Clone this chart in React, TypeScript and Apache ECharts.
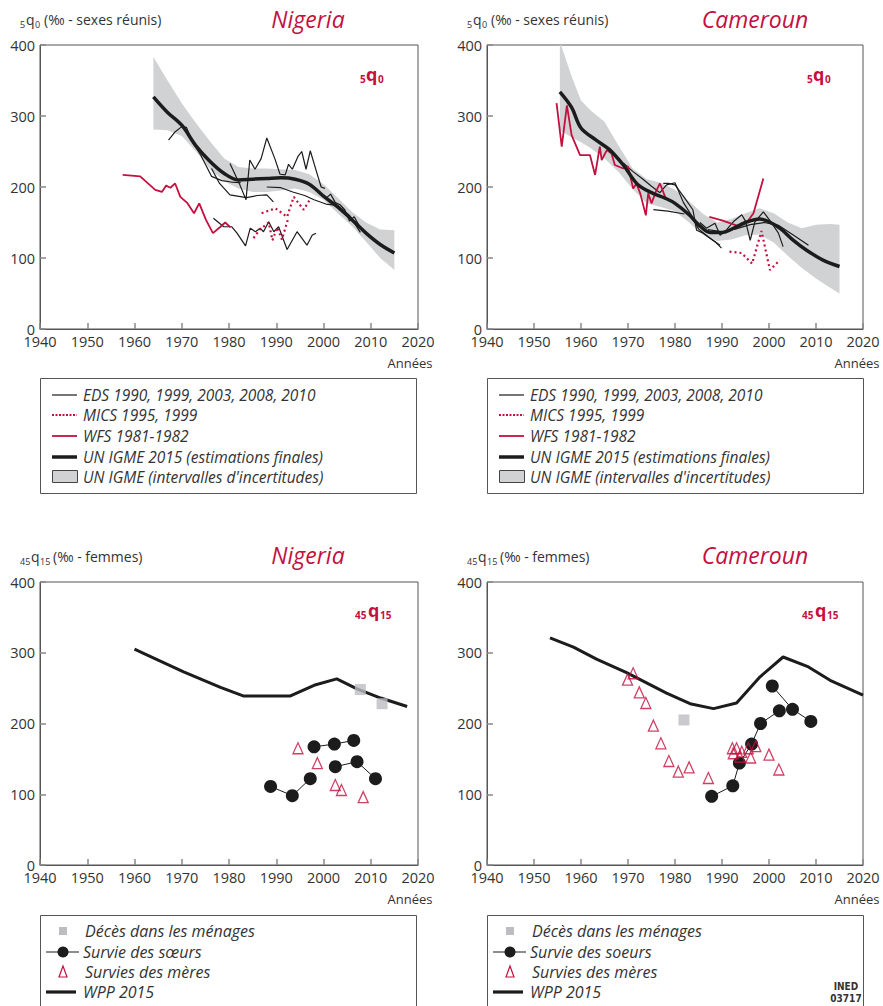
import React, { useEffect, useRef } from "react";
import * as echarts from "echarts";

// ---------- Nigeria 5q0 ----------
const ngBandYears = [1964, 1967, 1970, 1973, 1976, 1979, 1982, 1985, 1988, 1991, 1994, 1997, 2000, 2003, 2006, 2009, 2012, 2015];
const ngBandUpper = [383, 350, 318, 290, 264, 240, 228, 226, 226, 225, 224, 218, 204, 185, 165, 150, 140, 139];
const ngBandLower = [281, 280, 272, 250, 225, 208, 198, 193, 193, 195, 198, 193, 182, 163, 145, 123, 100, 83];
const ngIgmeYears = [1964, 1967, 1970, 1973, 1976, 1979, 1982, 1985, 1988, 1991, 1994, 1997, 2000, 2003, 2006, 2009, 2012, 2015];
const ngIgme = [327, 305, 287, 258, 236, 219, 210, 211, 212, 213, 211, 204, 187, 172, 154, 135, 119, 107];

const ngEds1: number[][] = [[1967.2, 266], [1968.5, 277], [1970, 285], [1971, 284], [1972.4, 262], [1974, 245], [1976.3, 215], [1978.5, 209], [1980.5, 207], [1982.5, 206]];
const ngEds2: number[][] = [[1976.3, 226], [1978, 205], [1980.2, 189], [1983.7, 185], [1986, 188], [1988, 189], [1989.4, 179]];
const ngEds3: number[][] = [[1980.2, 233], [1982.3, 203], [1983.6, 182], [1984.4, 238], [1985.5, 225], [1986.8, 240], [1988, 269], [1989.7, 240], [1990.8, 218], [1991.9, 217], [1992.6, 232], [1993.4, 225], [1994.6, 243], [1995.4, 250], [1996.3, 225], [1997.2, 251], [1998.5, 222], [1999.5, 200], [2000.3, 198]];
const ngEds4: number[][] = [[1988, 200], [1991, 199], [1993.5, 193], [1996, 188], [1998, 182], [2000.5, 176], [2003, 174], [2005.5, 160], [2007.8, 136]];
const ngEds5: number[][] = [[1996.5, 205], [1998, 200], [1999.5, 190], [2000.5, 184], [2001.5, 190], [2002.5, 178], [2003.5, 175], [2004.5, 168], [2005.5, 152], [2006.5, 158], [2008, 140]];
const ngEds6: number[][] = [[1976.7, 156], [1978.9, 144], [1980.6, 144], [1981.7, 135], [1983.5, 117], [1984.5, 142], [1985.6, 137], [1986.6, 142], [1987.3, 137], [1988.4, 151], [1989.5, 137], [1990.5, 144], [1992.3, 112], [1994.4, 137], [1996.5, 118], [1997.6, 132], [1998.4, 135]];
const ngMics1995: number[][] = [[1985.2, 128], [1986.5, 140], [1988.4, 150], [1989.2, 125], [1990.2, 143], [1991.2, 126], [1992.5, 155]];
const ngMics1999: number[][] = [[1986.9, 163], [1989.8, 170], [1992.3, 158], [1993.7, 186], [1995.8, 168], [1997.1, 182]];
const ngWfs: number[][] = [[1957.5, 217], [1961.2, 215], [1964.4, 196], [1965.8, 193], [1966.7, 202], [1967.6, 199], [1968.6, 205], [1969.7, 186], [1971.1, 178], [1972.6, 163], [1973.7, 177], [1975.1, 154], [1976.6, 135], [1978.2, 144], [1979.2, 150], [1980.3, 143]];

// ---------- Cameroun 5q0 ----------
const cmBandYears = [1955.5, 1958, 1960, 1962, 1965, 1968, 1971, 1974, 1977, 1980, 1983, 1986, 1989, 1992, 1995, 1998, 2001, 2004, 2007, 2010, 2013, 2015];
const cmBandUpper = [405, 356, 322, 308, 292, 258, 226, 211, 206, 196, 180, 162, 150, 155, 163, 170, 163, 150, 142, 147, 148, 147];
const cmBandLower = [280, 270, 263, 255, 240, 221, 197, 177, 172, 166, 150, 132, 124, 126, 132, 133, 122, 103, 86, 71, 58, 50];
const cmIgmeYears = [1955.5, 1958, 1960, 1963, 1966, 1969, 1972, 1975, 1978, 1980, 1983, 1985, 1987.5, 1990, 1992.5, 1995, 1998, 2000, 2002.5, 2005, 2008, 2011.5, 2015];
const cmIgme = [334, 312, 283, 267, 253, 231, 204, 192, 184, 177, 161, 147, 136, 136, 142, 150, 155, 151, 141, 126, 111, 97, 88];

const cmEds1: number[][] = [[1969, 234], [1971, 222], [1973, 212], [1975, 201], [1976.8, 192], [1978.2, 203], [1980, 206], [1981.8, 178], [1983.5, 160], [1985, 141], [1987, 130], [1989.6, 118]];
const cmEds2: number[][] = [[1975.4, 168], [1978.5, 166], [1982, 162]];
const cmEds3: number[][] = [[1977.5, 205], [1978.6, 205], [1980, 203], [1982, 185], [1983.8, 168], [1984.6, 139], [1986, 135], [1988.5, 123], [1989.9, 114]];
const cmEds4: number[][] = [[1985.3, 150], [1986.7, 142], [1988.5, 149], [1989.6, 132], [1991, 140], [1992.4, 151], [1994.2, 161], [1995, 152], [1996, 125], [1997, 151], [1998.8, 165], [2000.6, 149], [2002, 135], [2003, 116]];
const cmEds5: number[][] = [[1987, 140], [1990, 137], [1993, 141], [1996, 147], [1999, 150], [2002, 146], [2005, 133], [2008.4, 118]];
const cmMics: number[][] = [[1991.6, 109], [1994.2, 107], [1996.4, 92], [1998.4, 138], [2000.2, 83], [2002.3, 97]];
const cmWfs: number[][] = [[1954.8, 318], [1955.9, 257], [1957, 315], [1958, 273], [1959.8, 245], [1961.9, 245], [1963, 217], [1964, 257], [1964.4, 238], [1965.5, 252], [1966.5, 247], [1967.2, 231], [1969, 226], [1970, 229], [1971.1, 198], [1971.8, 205], [1972.6, 191], [1973.8, 160], [1974.3, 191], [1975, 177], [1975.9, 193], [1976.8, 205], [1977.9, 186]];
const cmWfs2: number[][] = [[1987.3, 158], [1990, 153], [1993.5, 145], [1995.5, 152], [1996.7, 163], [1998.8, 212]];

// ---------- Nigeria 45q15 ----------
const ngWppYears = [1960, 1962.6, 1970.4, 1978.2, 1983, 1993, 1998, 2002.8, 2007.1, 2012.1, 2017.7];
const ngWpp = [305, 297, 273, 251, 239, 239, 254, 263, 249, 236, 224];
const ngHouse: number[][] = [[2007.8, 248], [2012.4, 228]];
const ngSisters: number[][][] = [
  [[1988.8, 111], [1993.4, 98], [1997.2, 122]],
  [[1998, 167], [2002.3, 171], [2006.4, 176]],
  [[2002.5, 139], [2007.1, 146], [2011, 122]],
];
const ngMothers: number[][] = [[1994.6, 165], [1998.7, 144], [2002.5, 113], [2003.8, 106], [2008.4, 96]];

// ---------- Cameroun 45q15 ----------
const cmWppYears = [1953.4, 1958.4, 1963.3, 1969.7, 1978.2, 1983.2, 1988.2, 1993.1, 1998.1, 2003, 2008.4, 2013, 2020];
const cmWpp = [321, 308, 291, 272, 243, 228, 221, 229, 266, 294, 280, 261, 240];
const cmHouse: number[][] = [[1981.9, 205]];
const cmSisters: number[][][] = [
  [[1987.8, 97], [1992.3, 112], [1993.7, 144], [1996.3, 171], [1998.2, 200], [2002.2, 218]],
  [[2000.7, 253], [2005, 220], [2008.9, 203]],
];
const cmMothers: number[][] = [[1969.9, 262], [1971.1, 271], [1972.4, 244], [1973.8, 229], [1975.4, 197], [1977, 172], [1978.7, 147], [1980.7, 132], [1983, 138], [1987.1, 123], [1992.2, 165], [1993.1, 165], [1992.4, 158], [1994.2, 160], [1993.8, 153], [1995.6, 165], [1996.1, 152], [1997.2, 168], [2000, 156], [2002.1, 135]];

const topLegend = ["EDS 1990, 1999, 2003, 2008, 2010", "MICS 1995, 1999", "WFS 1981-1982", "UN IGME 2015 (estimations finales)", "UN IGME (intervalles d'incertitudes)"];
const bottomLegendNg = ["Décès dans les ménages", "Survie des sœurs", "Survies des mères", "WPP 2015"];
const bottomLegendCm = ["Décès dans les ménages", "Survie des soeurs", "Survies des mères", "WPP 2015"];

const CRIMSON = "#c4103f";
const BLACK = "#1c1c1c";
const BAND = "#d1d2d4";
const FONT = '"Open Sans", "Noto Sans", sans-serif';

const zip = (xs: number[], ys: number[]) => xs.map((x, i) => [x, ys[i]]);

function buildOption() {
  const grids = [
    { left: 40, top: 45, width: 378, height: 284 },
    { left: 487, top: 45, width: 376, height: 284 },
    { left: 40, top: 582, width: 378, height: 283 },
    { left: 487, top: 582, width: 376, height: 283 },
  ].map((g) => ({ ...g, show: true, borderColor: "#555", borderWidth: 1, backgroundColor: "transparent" }));

  const xAxes = grids.map((_, i) => ({
    type: "value",
    gridIndex: i,
    min: 1940,
    max: 2020,
    interval: 10,
    axisLine: { show: true, lineStyle: { color: "#555", width: 1 } },
    axisTick: { show: true, inside: true, length: 6, lineStyle: { color: "#888", width: 1.5 } },
    axisLabel: { fontSize: 14.5, lineHeight: 14, color: "#333", margin: 5, fontFamily: FONT, formatter: (v: number) => String(v) },
    splitLine: { show: false },
  }));
  const yAxes = grids.map((_, i) => ({
    type: "value",
    gridIndex: i,
    min: 0,
    max: 400,
    interval: 100,
    axisLine: { show: true, lineStyle: { color: "#555", width: 1 } },
    axisTick: { show: true, inside: true, length: 6, lineStyle: { color: "#888", width: 1.5 } },
    axisLabel: { fontSize: 14.5, lineHeight: 12, color: "#333", margin: 5, fontFamily: FONT, formatter: (v: number) => String(v) },
    splitLine: { show: false },
  }));

  const series: any[] = [];
  const line = (g: number, data: number[][], color: string, width: number, extra: any = {}) =>
    series.push({
      type: "line",
      xAxisIndex: g,
      yAxisIndex: g,
      data,
      symbol: "none",
      lineStyle: { color, width, ...(extra.lineStyle || {}) },
      z: extra.z ?? 3,
      smooth: extra.smooth ?? false,
      silent: true,
    });
  const band = (g: number, years: number[], lo: number[], up: number[]) => {
    series.push({
      type: "custom",
      coordinateSystem: "cartesian2d",
      xAxisIndex: g,
      yAxisIndex: g,
      clip: true,
      silent: true,
      z: 1,
      data: years.map((y, i) => [y, lo[i], up[i]]),
      encode: { x: 0, y: [1, 2] },
      renderItem: (params: any, api: any) => {
        if (params.dataIndex !== 0) return null;
        const top = years.map((y, i) => api.coord([y, up[i]]));
        const bottom = years.map((y, i) => api.coord([y, lo[i]])).reverse();
        return { type: "polygon", shape: { points: [...top, ...bottom] }, style: { fill: BAND, stroke: "none" } };
      },
    });
  };

  // Nigeria 5q0
  band(0, ngBandYears, ngBandLower, ngBandUpper);
  [ngEds1, ngEds2, ngEds3, ngEds4, ngEds5, ngEds6].forEach((d) => line(0, d, BLACK, 1.2));
  line(0, ngWfs, CRIMSON, 1.8);
  [ngMics1995, ngMics1999].forEach((d) => line(0, d, CRIMSON, 2.2, { lineStyle: { type: [2, 3] } }));
  line(0, zip(ngIgmeYears, ngIgme), BLACK, 3.5, { smooth: 0.35, z: 5 });

  // Cameroun 5q0
  band(1, cmBandYears, cmBandLower, cmBandUpper);
  [cmEds1, cmEds2, cmEds3, cmEds4, cmEds5].forEach((d) => line(1, d, BLACK, 1.2));
  line(1, cmWfs, CRIMSON, 1.8);
  line(1, cmWfs2, CRIMSON, 1.8);
  line(1, cmMics, CRIMSON, 2.2, { lineStyle: { type: [2, 3] } });
  line(1, zip(cmIgmeYears, cmIgme), BLACK, 3.5, { smooth: 0.35, z: 5 });

  // 45q15
  const q45 = (g: number, wppY: number[], wpp: number[], house: number[][], sisters: number[][][], mothers: number[][]) => {
    line(g, zip(wppY, wpp), BLACK, 3, { z: 3 });
    series.push({
      type: "scatter", xAxisIndex: g, yAxisIndex: g, data: house, symbol: "rect", symbolSize: 11,
      itemStyle: { color: "#bcbdc0" }, z: 4, silent: true,
    });
    sisters.forEach((d) =>
      series.push({
        type: "line", xAxisIndex: g, yAxisIndex: g, data: d, symbol: "circle", symbolSize: 13, showSymbol: true,
        lineStyle: { color: BLACK, width: 1 }, itemStyle: { color: BLACK }, z: 5, silent: true,
      })
    );
    series.push({
      type: "scatter", xAxisIndex: g, yAxisIndex: g, data: mothers, symbol: "triangle", symbolSize: [10, 11],
      itemStyle: { color: "rgba(255,255,255,0)", borderColor: CRIMSON, borderWidth: 1.3 }, z: 6, silent: true,
    });
  };
  q45(2, ngWppYears, ngWpp, ngHouse, ngSisters, ngMothers);
  q45(3, cmWppYears, cmWpp, cmHouse, cmSisters, cmMothers);

  // ---------- graphics ----------
  const g: any[] = [];
  const txt = (x: number, y: number, text: string, font: string, fill = "#333", align = "left") =>
    g.push({ type: "text", x, y, style: { text, font, fill, align, verticalAlign: "middle" } });

  // titles
  txt(308, 19, "Nigeria", `italic 23px ${FONT}`, CRIMSON, "center");
  txt(755, 19, "Cameroun", `italic 23px ${FONT}`, CRIMSON, "center");
  txt(308, 555, "Nigeria", `italic 23px ${FONT}`, CRIMSON, "center");
  txt(755, 555, "Cameroun", `italic 23px ${FONT}`, CRIMSON, "center");

  // axis names
  const name5q0 = (x: number, y: number) => {
    txt(x, y + 5, "5", `9px ${FONT}`);
    txt(x + 6, y, "q", `14px ${FONT}`);
    txt(x + 15, y + 5, "0", `9px ${FONT}`);
    txt(x + 24, y, "(‰ - sexes réunis)", `14px ${FONT}`);
  };
  const name45 = (x: number, y: number) => {
    txt(x, y + 5, "45", `9px ${FONT}`);
    txt(x + 11, y, "q", `14px ${FONT}`);
    txt(x + 20, y + 5, "15", `9px ${FONT}`);
    txt(x + 33, y, "(‰ - femmes)", `14px ${FONT}`);
  };
  name5q0(20, 19);
  name5q0(467, 19);
  name45(20, 556);
  name45(467, 556);

  // in-plot labels
  const lab5q0 = (x: number, y: number) => {
    txt(x, y + 5, "5", `bold 10px ${FONT}`, CRIMSON);
    txt(x + 6, y, "q", `bold 18px ${FONT}`, CRIMSON);
    txt(x + 18, y + 5, "0", `bold 10px ${FONT}`, CRIMSON);
  };
  const lab45 = (x: number, y: number) => {
    txt(x, y + 5, "45", `bold 10px ${FONT}`, CRIMSON);
    txt(x + 13, y, "q", `bold 18px ${FONT}`, CRIMSON);
    txt(x + 25, y + 5, "15", `bold 10px ${FONT}`, CRIMSON);
  };
  lab5q0(360, 74);
  lab5q0(807, 74);
  lab45(355, 610);
  lab45(802, 610);

  // "Années"
  txt(410, 363, "Années", `13px ${FONT}`, "#333", "center");
  txt(857, 363, "Années", `13px ${FONT}`, "#333", "center");
  txt(410, 899, "Années", `13px ${FONT}`, "#333", "center");
  txt(857, 899, "Années", `13px ${FONT}`, "#333", "center");

  // top legends
  const legendTop = (x0: number, y0: number) => {
    g.push({ type: "rect", shape: { x: x0 + 0.5, y: y0 + 0.5, width: 376, height: 115 }, style: { fill: "none", stroke: "#555", lineWidth: 1 } });
    const rows = [17, 37, 58, 79, 99].map((d) => y0 + d);
    const lx1 = x0 + 12, lx2 = x0 + 37;
    g.push({ type: "line", shape: { x1: lx1, y1: rows[0], x2: lx2, y2: rows[0] }, style: { stroke: BLACK, lineWidth: 1.2 } });
    g.push({ type: "line", shape: { x1: lx1, y1: rows[1], x2: lx2, y2: rows[1] }, style: { stroke: CRIMSON, lineWidth: 2.2, lineDash: [2, 1.5] } });
    g.push({ type: "line", shape: { x1: lx1, y1: rows[2], x2: lx2, y2: rows[2] }, style: { stroke: CRIMSON, lineWidth: 1.8 } });
    g.push({ type: "line", shape: { x1: lx1, y1: rows[3], x2: lx2, y2: rows[3] }, style: { stroke: BLACK, lineWidth: 3.5 } });
    g.push({ type: "rect", shape: { x: lx1 + 0.5, y: rows[4] - 6.5, width: 25, height: 12 }, style: { fill: BAND, stroke: "#444", lineWidth: 1 } });
    topLegend.forEach((t, i) => txt(x0 + 43, rows[i], t, `italic 15.5px ${FONT}`));
  };
  legendTop(40, 378);
  legendTop(487, 378);

  // bottom legends
  const legendBottom = (x0: number, y0: number, labels: string[]) => {
    g.push({ type: "rect", shape: { x: x0 + 0.5, y: y0 + 0.5, width: 376, height: 110 }, style: { fill: "none", stroke: "#555", lineWidth: 1 } });
    const rows = [16, 37, 57, 77].map((d) => y0 + d);
    g.push({ type: "rect", shape: { x: x0 + 19, y: rows[0] - 4, width: 8, height: 8 }, style: { fill: "#bcbdc0" } });
    g.push({ type: "line", shape: { x1: x0 + 6, y1: rows[1], x2: x0 + 39, y2: rows[1] }, style: { stroke: BLACK, lineWidth: 1.2 } });
    g.push({ type: "circle", shape: { cx: x0 + 23, cy: rows[1], r: 5.5 }, style: { fill: BLACK } });
    g.push({ type: "polygon", shape: { points: [[x0 + 23, rows[2] - 6], [x0 + 19, rows[2] + 5], [x0 + 27, rows[2] + 5]] }, style: { fill: "none", stroke: CRIMSON, lineWidth: 1.2 } });
    g.push({ type: "line", shape: { x1: x0 + 6, y1: rows[3], x2: x0 + 36, y2: rows[3] }, style: { stroke: BLACK, lineWidth: 3.2 } });
    labels.forEach((t, i) => txt(x0 + (i === 1 || i === 3 ? 43 : 45), rows[i], t, `italic 16px ${FONT}`));
  };
  legendBottom(40, 915, bottomLegendNg);
  legendBottom(487, 915, bottomLegendCm);

  // INED code
  const ined = `bold 10px "DejaVu Sans Condensed", "Liberation Sans Narrow", sans-serif`;
  txt(846, 986, "INED", ined, "#333", "center");
  txt(846, 998, "03717", ined, "#333", "center");

  return {
    animation: false,
    textStyle: { fontFamily: FONT },
    grid: grids,
    xAxis: xAxes,
    yAxis: yAxes,
    series,
    graphic: { elements: g },
  };
}

export default function App() {
  const ref = useRef<HTMLDivElement>(null);
  useEffect(() => {
    const chart = echarts.init(ref.current!, null, { renderer: "svg" });
    chart.setOption(buildOption() as any);
    return () => chart.dispose();
  }, []);
  return <div ref={ref} style={{ position: "absolute", left: 0, top: 0, width: 883, height: 1006, background: "#fff" }} />;
}
